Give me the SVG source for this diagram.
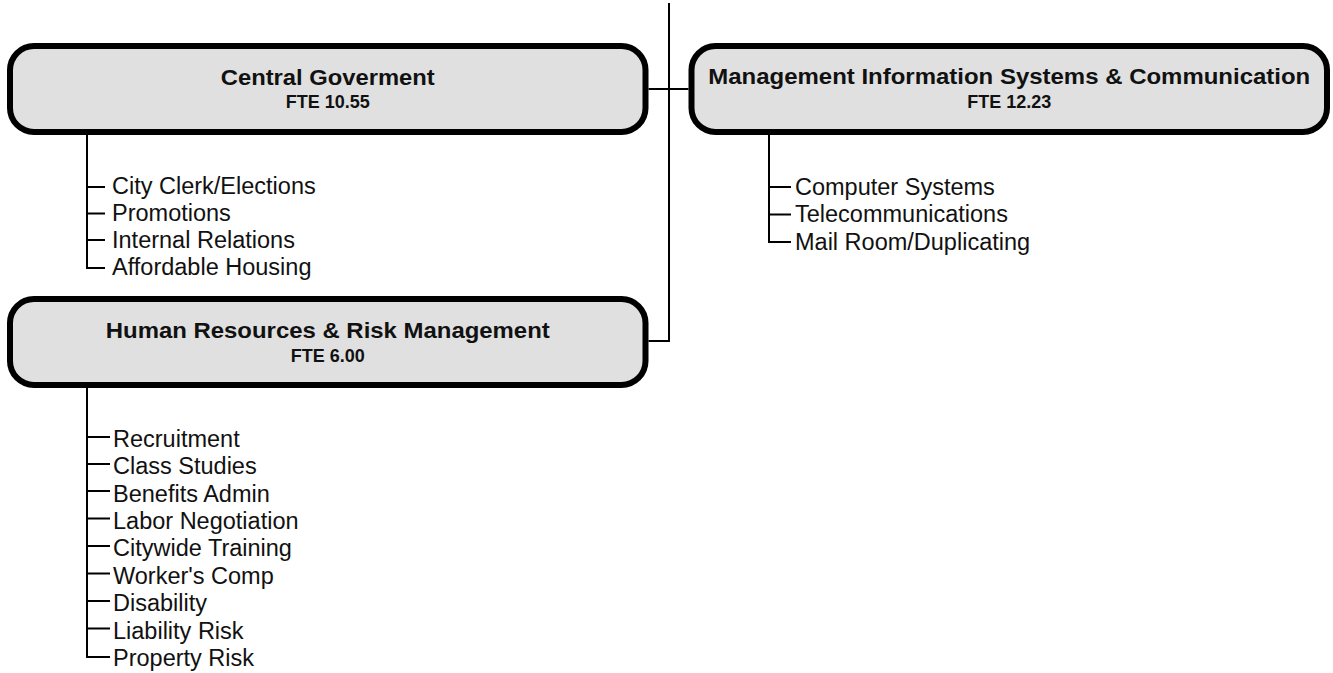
<svg xmlns="http://www.w3.org/2000/svg" width="1333" height="673" viewBox="0 0 1333 673">
<style>
.box{fill:#e0e0e0;stroke:#000;stroke-width:6}
.ttl{font-family:"Liberation Sans",Arial,sans-serif;font-weight:bold;font-size:22.5px;fill:#111;text-anchor:middle}
.fte{font-family:"Liberation Sans",Arial,sans-serif;font-weight:bold;font-size:18px;fill:#111;text-anchor:middle}
.item{font-family:"Liberation Sans",Arial,sans-serif;font-size:23.5px;fill:#111}
.con{fill:none;stroke:#000;stroke-width:2}
</style>
<rect width="1333" height="673" fill="#fff"/>
<g id="connectors" class="con">
<path d="M669,3 V341 H648.5"/>
<path d="M648.5,89 H688.5"/>
<path d="M87,135 V268 H105 M87,187 H105 M87,213.5 H105 M87,240 H105"/>
<path d="M769,135 V242 H791 M769,187 H791 M769,214.5 H791"/>
<path d="M87,388 V657 H110 M87,437 H110 M87,464 H110 M87,491 H110 M87,518.5 H110 M87,546 H110 M87,573.5 H110 M87,601 H110 M87,628.5 H110"/>
</g>
<g id="central">
<rect class="box" x="10" y="46" width="635.5" height="86" rx="24"/>
<text class="ttl" x="327.75" y="84.5" textLength="214" lengthAdjust="spacingAndGlyphs">Central Goverment</text>
<text class="fte" x="327.75" y="108">FTE 10.55</text>
</g>
<g id="central-items" class="item">
<text x="112" y="194">City Clerk/Elections</text>
<text x="112" y="221">Promotions</text>
<text x="112" y="248">Internal Relations</text>
<text x="112" y="275">Affordable Housing</text>
</g>
<g id="mis">
<rect class="box" x="691.5" y="46" width="635.5" height="86" rx="24"/>
<text class="ttl" x="1009.25" y="84" textLength="602" lengthAdjust="spacingAndGlyphs">Management Information Systems &amp; Communication</text>
<text class="fte" x="1009.25" y="108">FTE 12.23</text>
</g>
<g id="mis-items" class="item">
<text x="795" y="195">Computer Systems</text>
<text x="795" y="222">Telecommunications</text>
<text x="795" y="249.5">Mail Room/Duplicating</text>
</g>
<g id="hr">
<rect class="box" x="10" y="299" width="635.5" height="86" rx="24"/>
<text class="ttl" x="327.75" y="337.5" textLength="444" lengthAdjust="spacingAndGlyphs">Human Resources &amp; Risk Management</text>
<text class="fte" x="327.75" y="361.5">FTE 6.00</text>
</g>
<g id="hr-items" class="item">
<text x="113" y="446.7">Recruitment</text>
<text x="113" y="474.1">Class Studies</text>
<text x="113" y="501.5">Benefits Admin</text>
<text x="113" y="528.9">Labor Negotiation</text>
<text x="113" y="556.3">Citywide Training</text>
<text x="113" y="583.7">Worker's Comp</text>
<text x="113" y="611.1">Disability</text>
<text x="113" y="638.5">Liability Risk</text>
<text x="113" y="665.9">Property Risk</text>
</g>
</svg>
